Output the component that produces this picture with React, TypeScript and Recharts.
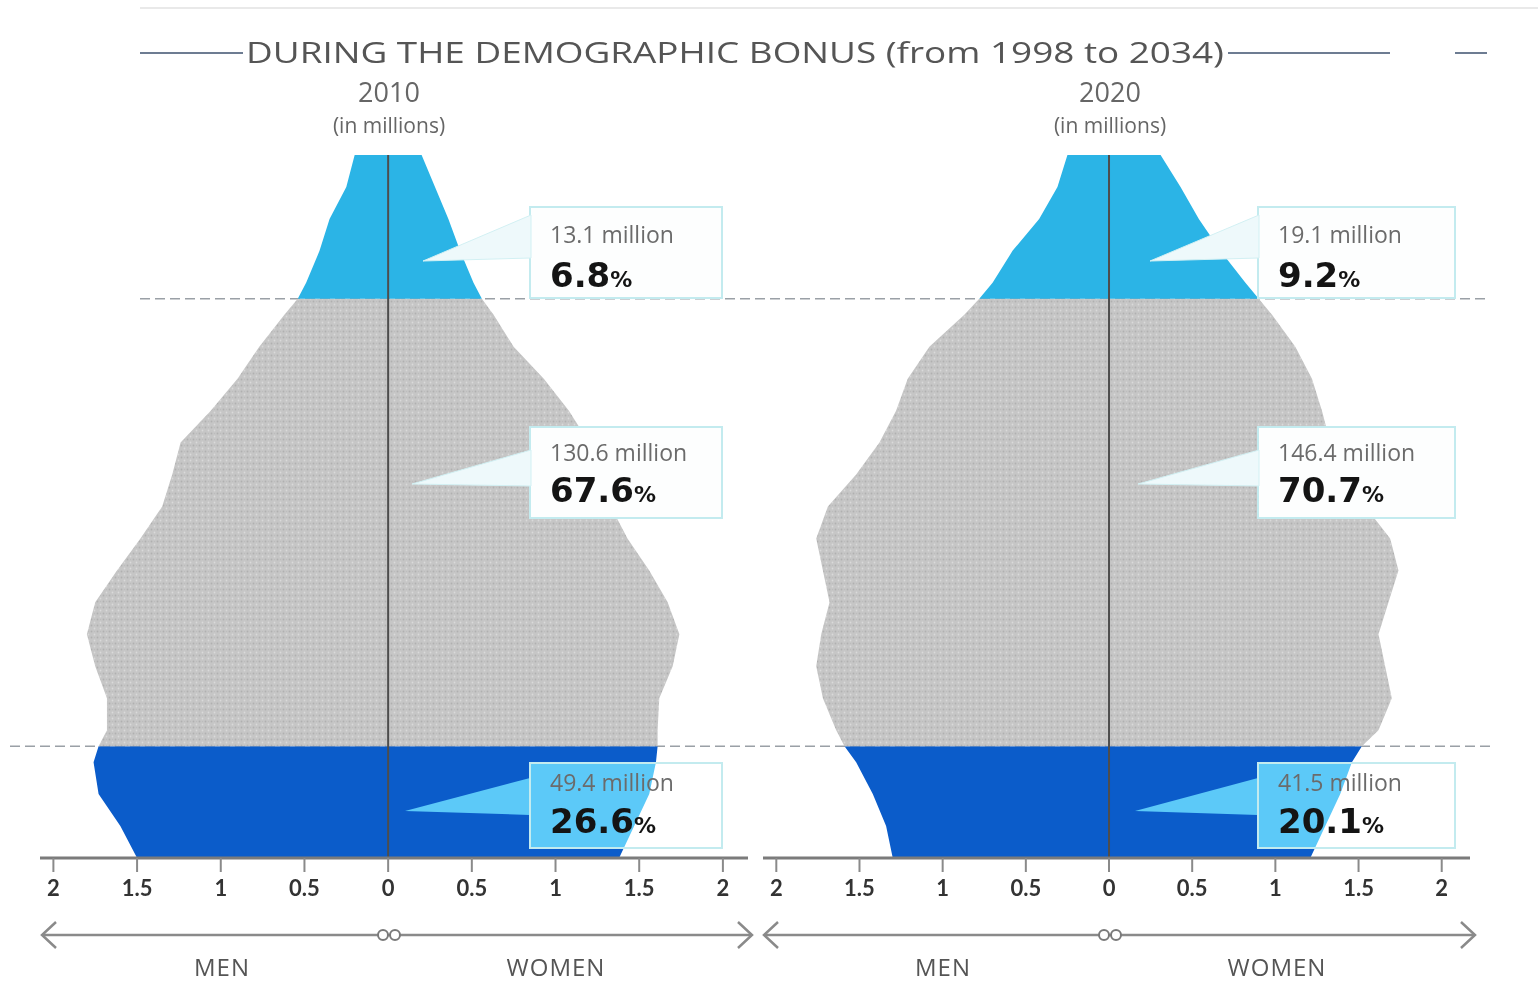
import { ComposedChart, Area, XAxis, YAxis, ReferenceLine } from "recharts";

// rows go bottom (youngest) to top (oldest); 0-14 children, 14-70 working age, 70-88 elderly
const rows = [0, 4, 8, 12, 14, 16, 20, 24, 28, 32, 36, 40, 44, 48, 52, 56, 60, 64, 68, 70, 72, 76, 80, 84, 88];

// millions of people per row
const men2010 = [1.5, 1.6, 1.73, 1.76, 1.73, 1.68, 1.68, 1.75, 1.8, 1.75, 1.62, 1.48, 1.35, 1.29, 1.24, 1.06, 0.9, 0.77, 0.62, 0.54, 0.49, 0.41, 0.35, 0.25, 0.2];
const women2010 = [1.38, 1.47, 1.56, 1.6, 1.61, 1.61, 1.62, 1.7, 1.74, 1.67, 1.56, 1.43, 1.33, 1.26, 1.2, 1.08, 0.93, 0.75, 0.63, 0.56, 0.51, 0.43, 0.36, 0.28, 0.2];
const men2020 = [1.3, 1.34, 1.42, 1.52, 1.59, 1.64, 1.72, 1.76, 1.73, 1.68, 1.72, 1.76, 1.69, 1.52, 1.38, 1.28, 1.21, 1.08, 0.87, 0.78, 0.7, 0.58, 0.42, 0.31, 0.25];
const women2020 = [1.21, 1.3, 1.39, 1.46, 1.52, 1.62, 1.7, 1.66, 1.62, 1.68, 1.74, 1.69, 1.54, 1.42, 1.33, 1.28, 1.22, 1.12, 0.98, 0.9, 0.82, 0.67, 0.54, 0.43, 0.31];

const ticks = [-2, -1.5, -1, -0.5, 0, 0.5, 1, 1.5, 2];

// callouts, from the top group down
const totals2010 = ["13.1 million", "130.6 million", "49.4 million"];
const shares2010 = ["6.8", "67.6", "26.6"];
const totals2020 = ["19.1 million", "146.4 million", "41.5 million"];
const shares2020 = ["9.2", "70.7", "20.1"];

const TITLE = "DURING THE DEMOGRAPHIC BONUS (from 1998 to 2034)";

const YOUNG_TOP = 14;
const WORK_TOP = 70;
const ROW_MAX = 88;

const W = 1538;
const H = 997;
const PLOT_TOP = 155;
const PLOT_BOTTOM = 858;
const AXIS_H = 60;
const rowY = (r: number) => PLOT_BOTTOM - (r / ROW_MAX) * (PLOT_BOTTOM - PLOT_TOP);

const LIGHT = "#2bb4e6";
const DARK = "#0b5cca";
const BORDER = "#c3ebef";

function buildData(men: number[], women: number[]) {
  return rows.map((row, i) => ({
    row,
    menYoung: row <= YOUNG_TOP ? -men[i] : null,
    menWork: row >= YOUNG_TOP && row <= WORK_TOP ? -men[i] : null,
    menOld: row >= WORK_TOP ? -men[i] : null,
    womenYoung: row <= YOUNG_TOP ? women[i] : null,
    womenWork: row >= YOUNG_TOP && row <= WORK_TOP ? women[i] : null,
    womenOld: row >= WORK_TOP ? women[i] : null,
  }));
}

function Pyramid({ men, women, left, right, domain, pid }: { men: number[]; women: number[]; left: number; right: number; domain: [number, number]; pid: string }) {
  const data = buildData(men, women);
  const stip = `url(#${pid})`;
  return (
    <div style={{ position: "absolute", left: 0, top: 0 }}>
      <ComposedChart
        layout="vertical"
        width={W}
        height={H}
        data={data}
        margin={{ top: PLOT_TOP, left, right: W - right, bottom: H - PLOT_BOTTOM - AXIS_H }}
      >
        <defs>
          <pattern id={pid} width={6} height={6} patternUnits="userSpaceOnUse">
            <rect width={6} height={6} fill="#c6c6c6" />
            <circle cx={1.5} cy={1.5} r={0.9} fill="#b0b0b0" />
            <circle cx={4.5} cy={4.5} r={0.9} fill="#dadada" />
            <circle cx={4.5} cy={1.5} r={0.6} fill="#bababa" />
          </pattern>
        </defs>
        <XAxis
          type="number"
          domain={domain}
          allowDataOverflow
          ticks={ticks}
          interval={0}
          tickFormatter={(v) => String(Math.abs(v))}
          height={AXIS_H}
          axisLine={{ stroke: "#7b7b7b", strokeWidth: 3 }}
          tickLine={{ stroke: "#8a8a8a", strokeWidth: 2 }}
          tickSize={14}
          tickMargin={8}
          tick={{ fontSize: 22, fill: "#333", fontFamily: "Lato", fontWeight: 700 }}
        />
        <YAxis type="number" dataKey="row" domain={[0, ROW_MAX]} reversed hide width={0} />
        <Area type="linear" dataKey="menYoung" fill={DARK} fillOpacity={1} stroke="none" isAnimationActive={false} />
        <Area type="linear" dataKey="menWork" fill={stip} fillOpacity={1} stroke="none" isAnimationActive={false} />
        <Area type="linear" dataKey="menOld" fill={LIGHT} fillOpacity={1} stroke="none" isAnimationActive={false} />
        <Area type="linear" dataKey="womenYoung" fill={DARK} fillOpacity={1} stroke="none" isAnimationActive={false} />
        <Area type="linear" dataKey="womenWork" fill={stip} fillOpacity={1} stroke="none" isAnimationActive={false} />
        <Area type="linear" dataKey="womenOld" fill={LIGHT} fillOpacity={1} stroke="none" isAnimationActive={false} />
        <ReferenceLine x={0} stroke="#4d4d4d" strokeWidth={2} />
      </ComposedChart>
    </div>
  );
}

const panels = [
  { year: "2010", center: 389, a: 42, b: 752, box: 530, boxW: 192, tips: [423, 412, 405], totals: totals2010, shares: shares2010 },
  { year: "2020", center: 1110, a: 764, b: 1475, box: 1258, boxW: 197, tips: [1150, 1138, 1135], totals: totals2020, shares: shares2020 },
];

const boxY = [207, 427, 763];
const boxH = [91, 91, 85];
const tipY = [261, 484, 811];
const tailTop = [215, 450, 778];
const tailBottom = [258, 486, 815];
// baselines inside each box: [total, share]
const textY = [[243, 287], [461, 502], [791, 833]];

export default function App() {
  const sans = "'Open Sans', 'DejaVu Sans', sans-serif";
  return (
    <div style={{ position: "absolute", left: 0, top: 0, width: W, height: H, background: "#fff", overflow: "hidden" }}>
      <svg width={W} height={H} style={{ position: "absolute", left: 0, top: 0 }}>
        <line x1={140} y1={8} x2={W} y2={8} stroke="#e2e2e2" strokeWidth={1.5} />
        <line x1={140} y1={53} x2={243} y2={53} stroke="#6d7c92" strokeWidth={2} />
        <line x1={1228} y1={53} x2={1390} y2={53} stroke="#6d7c92" strokeWidth={2} />
        <line x1={1455} y1={53} x2={1487} y2={53} stroke="#6d7c92" strokeWidth={2} />
        <text x={246} y={63} fontSize={29} fill="#555" fontFamily={sans} fontWeight={500} textLength={978} lengthAdjust="spacingAndGlyphs">
          {TITLE}
        </text>
        {panels.map((p) => (
          <g key={p.year} fontFamily={sans} fill="#666" textAnchor="middle">
            <text x={p.center} y={102} fontSize={27}>{p.year}</text>
            <text x={p.center} y={133} fontSize={21}>(in millions)</text>
          </g>
        ))}
        <line x1={140} y1={rowY(WORK_TOP)} x2={1490} y2={rowY(WORK_TOP)} stroke="#9aa0a6" strokeWidth={1.5} strokeDasharray="10 5" />
        <line x1={10} y1={rowY(YOUNG_TOP)} x2={1490} y2={rowY(YOUNG_TOP)} stroke="#9aa0a6" strokeWidth={1.5} strokeDasharray="10 5" />
      </svg>

      <Pyramid men={men2010} women={women2010} left={40} right={748} domain={[-2.08, 2.15]} pid="stip2010" />
      <Pyramid men={men2020} women={women2020} left={763} right={1470} domain={[-2.08, 2.17]} pid="stip2020" />

      {/* lightening layer for the bottom callouts, which sit over the dark blue */}
      <svg width={W} height={H} style={{ position: "absolute", left: 0, top: 0, mixBlendMode: "screen" }}>
        {panels.map((p) => (
          <g key={p.year} fill="#55aadc">
            <rect x={p.box} y={boxY[2]} width={p.boxW} height={boxH[2]} />
            <polygon points={`${p.box},${tailTop[2]} ${p.tips[2]},${tipY[2]} ${p.box},${tailBottom[2]}`} />
          </g>
        ))}
      </svg>

      <svg width={W} height={H} style={{ position: "absolute", left: 0, top: 0 }}>
        {panels.map((p) => (
          <g key={p.year}>
            {[0, 1].map((k) => (
              <g key={k}>
                <rect x={p.box} y={boxY[k]} width={p.boxW} height={boxH[k]} fill="#fdfefe" stroke={BORDER} strokeWidth={2} />
                <polygon
                  points={`${p.box + 1},${tailTop[k]} ${p.tips[k]},${tipY[k]} ${p.box + 1},${tailBottom[k]}`}
                  fill="#eef9fb"
                  stroke="#d2f0f3"
                  strokeWidth={1}
                />
              </g>
            ))}
            <rect x={p.box} y={boxY[2]} width={p.boxW} height={boxH[2]} fill="none" stroke={BORDER} strokeWidth={2} />
            {p.totals.map((t, k) => (
              <g key={t}>
                <text x={p.box + 20} y={textY[k][0]} fontSize={23} fill="#6b6b6b" fontFamily={sans}>
                  {t}
                </text>
                <text x={p.box + 20} y={textY[k][1]} fill="#141414" fontFamily="'DejaVu Sans', sans-serif" fontWeight={700}>
                  <tspan fontSize={34}>{p.shares[k]}</tspan>
                  <tspan fontSize={22}>%</tspan>
                </text>
              </g>
            ))}
            <line x1={p.a} y1={935} x2={p.b} y2={935} stroke="#8a8a8a" strokeWidth={2.5} />
            <polyline points={`${p.a + 14},922 ${p.a},935 ${p.a + 14},948`} fill="none" stroke="#8a8a8a" strokeWidth={2.5} />
            <polyline points={`${p.b - 14},922 ${p.b},935 ${p.b - 14},948`} fill="none" stroke="#8a8a8a" strokeWidth={2.5} />
            <circle cx={p.center - 6} cy={935} r={5} fill="#fff" stroke="#7a7a7a" strokeWidth={2} />
            <circle cx={p.center + 6} cy={935} r={5} fill="#fff" stroke="#7a7a7a" strokeWidth={2} />
            <g fontFamily={sans} fontSize={24} fill="#555" textAnchor="middle" letterSpacing={1}>
              <text x={p.center - 167} y={976}>MEN</text>
              <text x={p.center + 167} y={976}>WOMEN</text>
            </g>
          </g>
        ))}
      </svg>
    </div>
  );
}
